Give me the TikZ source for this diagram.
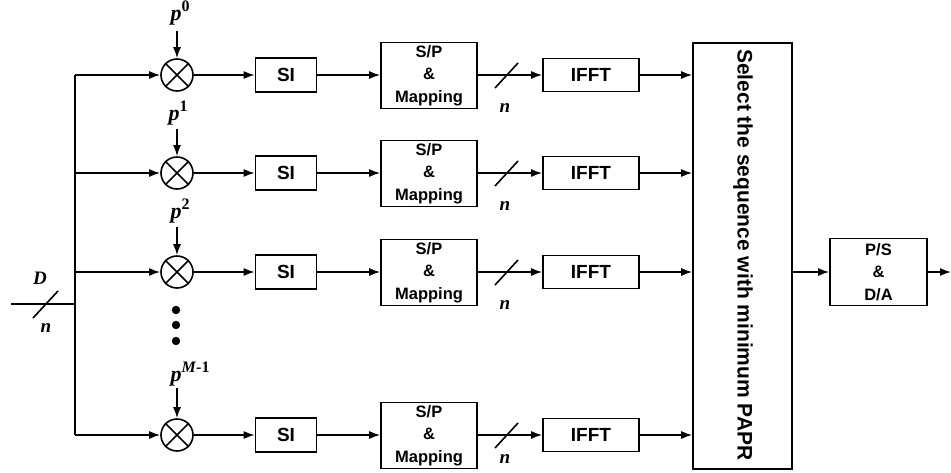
\documentclass[tikz,border=0pt]{standalone}
\usepackage{fontspec}
\setmainfont{Liberation Serif}
\setsansfont{Liberation Sans}
\usetikzlibrary{arrows.meta,calc}
\newcommand{\pw}[1]{\textbf{\textit{p}}\raisebox{0.42em}{\fontsize{16}{16}\selectfont\bfseries #1}}
\begin{document}
\begin{tikzpicture}[x=1pt,y=-1pt,
  line width=1.6pt,
  >={Latex[length=11pt,width=8pt]},
  blk/.style={draw,rectangle,inner sep=0pt,align=center,font=\sffamily\bfseries\fontsize{16.5}{22.5}\selectfont},
  bigfont/.style={font=\sffamily\bfseries\fontsize{19}{22}\selectfont},
  sibox/.style={blk,bigfont,minimum width=61pt,minimum height=34pt},
  spbox/.style={blk,minimum width=96pt,minimum height=66pt},
  ifbox/.style={blk,bigfont,minimum width=96pt,minimum height=33pt},
  mult/.style={draw,circle,minimum size=32pt,inner sep=0pt},
  lab/.style={font=\fontsize{19}{19}\selectfont\bfseries\itshape,inner sep=0pt},
  plab/.style={font=\fontsize{22}{22}\selectfont,inner sep=0pt,anchor=south}
]
\useasboundingbox (0,0) rectangle (951,472);

% bus and input
\coordinate (bt) at (75,75);
\coordinate (bb) at (75,435);
\coordinate (in) at (11,304);
\coordinate (inb) at (75,304);
\draw (bt) -- (bb);
\draw (in) -- (inb);
\coordinate (s1a) at (33,318);
\coordinate (s1b) at (58,291);
\draw (s1a) -- (s1b);
\node[lab] (D) at (40,278) {D};
\node[lab] (nin) at (46,328) {n};

% big box
\node[blk,minimum width=99pt,minimum height=426pt] (big) at (742.5,256) {};
\node[blk,draw=none,rotate=-90,font=\sffamily\bfseries\fontsize{21}{24}\selectfont] (bigt) at (743,255) {Select the sequence with minimum PAPR};

% P/S
\node[blk,minimum width=97pt,minimum height=67pt] (ps) at (878.5,272) {P/S\\\&\\D/A};
\coordinate (out) at (951,272);
\draw[->] (big.east |- ps.west) -- (ps.west);
\draw[->] (ps.east) -- (out);

% rows
\foreach \i/\y/\ny in {1/75/108,2/173/206,3/272/305,4/435/459}{
  \node[mult] (m\i) at (177,\y) {};
  \draw (m\i.north west) -- (m\i.south east);
  \draw (m\i.north east) -- (m\i.south west);
  \node[sibox] (si\i) at (286,\y) {SI};
  \node[spbox] (sp\i) at (429,\y+0.5) {S/P\\\&\\Mapping};
  \node[ifbox] (if\i) at (591,\y) {IFFT};
  \draw[->] (m\i.east) -- (si\i.west);
  \draw[->] (si\i.east) -- (sp\i.west |- si\i.east);
  \draw[->] (sp\i.east |- if\i.west) -- (if\i.west);
  \draw[->] (if\i.east) -- (if\i.east -| big.west);
  \draw[->] (75,\y) -- (m\i.west);
  \coordinate (sa\i) at (495,\y+13);
  \coordinate (sb\i) at (518,\y-12);
  \draw (sa\i) -- (sb\i);
  \node[lab] (n\i) at (505,\ny) {n};
}
\node[plab] (p1) at (180,26) {\pw{0}};
\node[plab] (p2) at (178,126) {\pw{1}};
\node[plab] (p3) at (180,224) {\pw{2}};
\node[plab] (p4) at (190,387) {\pw{\textit{M}-1}};
\draw[->] (m1.north |- p1.south) ++(0,5) -- (m1.north);
\draw[->] (m2.north |- p2.south) ++(0,3) -- (m2.north);
\draw[->] (m3.north |- p3.south) ++(0,3) -- (m3.north);
\draw[->] (m4.north |- p4.south) ++(0,1) -- (m4.north);

% dots
\foreach \k/\yy in {1/310,2/325,3/341}{
  \fill (176,\yy) circle (4.2pt);
}
\end{tikzpicture}
\end{document}
